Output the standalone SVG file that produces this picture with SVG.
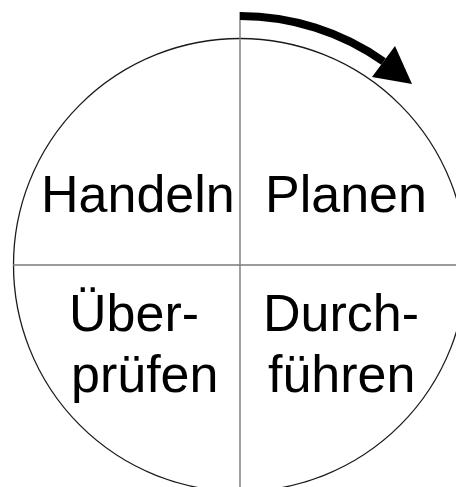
<svg xmlns="http://www.w3.org/2000/svg" width="456" height="487" viewBox="0 0 456 487">
  <style>
    .grid { stroke: #7a7a7a; stroke-width: 1.4; fill: none; }
    .circ { stroke: #1a1a1a; stroke-width: 1.3; fill: none; }
    .lbl { font-family: "Liberation Sans", Arial, sans-serif; font-size: 52px; fill: #000; }
  </style>
  <rect width="456" height="487" fill="#fff"/>
  <g id="cycle">
    <circle class="circ" cx="240" cy="265" r="226.5"/>
  </g>
  <g id="connectors">
    <line class="grid" x1="240" y1="12" x2="240" y2="487"/>
    <line class="grid" x1="13" y1="265" x2="456" y2="265"/>
    <path d="M240,16 A249,249 0 0 1 383.5,61.5" stroke="#000" stroke-width="8" fill="none"/>
    <polygon points="395,46 412,84 372,77" fill="#000"/>
  </g>
  <g id="handeln"><text class="lbl" x="41" y="212">Handeln</text></g>
  <g id="planen"><text class="lbl" x="265" y="212">Planen</text></g>
  <g id="ueberpruefen">
    <text class="lbl" x="69" y="331">Über-</text>
    <text class="lbl" x="71" y="392">prüfen</text>
  </g>
  <g id="durchfuehren">
    <text class="lbl" x="263" y="331">Durch-</text>
    <text class="lbl" x="268" y="392">führen</text>
  </g>
</svg>
